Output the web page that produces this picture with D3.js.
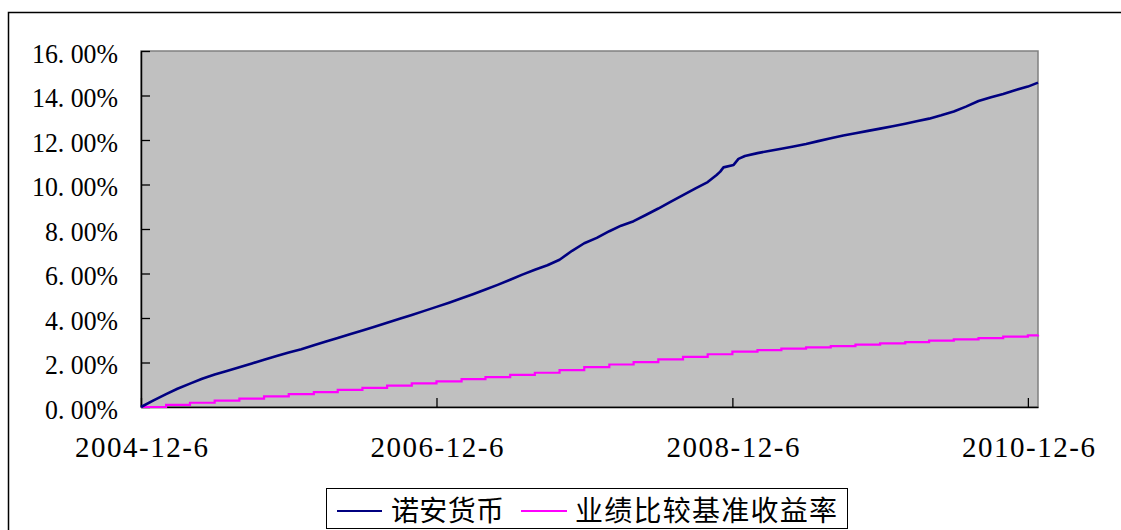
<!DOCTYPE html>
<html>
<head>
<meta charset="utf-8">
<script src="https://cdn.jsdelivr.net/npm/d3@7/dist/d3.min.js"></script>
<style>
  html, body { margin: 0; padding: 0; background: #fff; }
  svg { display: block; }
</style>
</head>
<body>
<svg id="chart" width="1121" height="530"></svg>
<script>
// ---- data ----
const seriesNames = ["诺安货币", "业绩比较基准收益率"];
const xTickLabels = ["2004-12-6", "2006-12-6", "2008-12-6", "2010-12-6"];
const yTicks = [0, 0.02, 0.04, 0.06, 0.08, 0.10, 0.12, 0.14, 0.16];

const fundDates = [
  "2004-12-06","2005-01-06","2005-02-06","2005-03-06","2005-04-06","2005-05-06","2005-06-06",
  "2005-07-06","2005-08-06","2005-09-06","2005-10-06","2005-11-06","2005-12-06",
  "2006-01-06","2006-02-06","2006-03-06","2006-04-06","2006-05-06","2006-06-06",
  "2006-07-06","2006-08-06","2006-09-06","2006-10-06","2006-11-06","2006-12-06",
  "2007-01-06","2007-02-06","2007-03-06","2007-04-06","2007-05-06","2007-06-06",
  "2007-07-06","2007-08-06","2007-09-06","2007-10-06","2007-11-06","2007-12-06",
  "2008-01-06","2008-02-06","2008-03-06","2008-04-06","2008-05-06","2008-06-06",
  "2008-07-06","2008-08-06","2008-09-06","2008-10-06","2008-10-28","2008-11-06","2008-11-14",
  "2008-12-09","2008-12-21","2009-01-06","2009-02-06","2009-03-06","2009-04-06","2009-05-06","2009-06-06",
  "2009-07-06","2009-08-06","2009-09-06","2009-10-06","2009-11-06","2009-12-06",
  "2010-01-06","2010-02-06","2010-03-06","2010-04-06","2010-05-06","2010-06-06",
  "2010-07-06","2010-08-06","2010-09-06","2010-10-06","2010-11-06","2010-12-06","2010-12-31"
];
const fundValues = [
  0.00,0.30,0.58,0.82,1.05,1.27,1.46,
  1.62,1.79,1.96,2.12,2.29,2.45,
  2.60,2.77,2.93,3.10,3.27,3.44,
  3.61,3.79,3.97,4.14,4.32,4.50,
  4.69,4.89,5.07,5.28,5.49,5.72,
  5.95,6.17,6.37,6.62,7.02,7.36,
  7.60,7.90,8.15,8.35,8.63,8.92,
  9.22,9.52,9.83,10.11,10.43,10.58,10.77,
  10.88,11.15,11.28,11.41,11.51,11.61,11.71,11.82,
  11.95,12.08,12.20,12.30,12.41,12.51,
  12.62,12.73,12.84,12.96,13.11,13.28,
  13.50,13.75,13.92,14.07,14.25,14.40,14.58
];

const benchDates = [
  "2004-12-06","2005-02-06","2005-04-06","2005-06-06","2005-08-06","2005-10-06","2005-12-06",
  "2006-02-06","2006-04-06","2006-06-06","2006-08-06","2006-10-06","2006-12-06",
  "2007-02-06","2007-04-06","2007-06-06","2007-08-06","2007-10-06","2007-12-06",
  "2008-02-06","2008-04-06","2008-06-06","2008-08-06","2008-10-06","2008-12-06",
  "2009-02-06","2009-04-06","2009-06-06","2009-08-06","2009-10-06","2009-12-06",
  "2010-02-06","2010-04-06","2010-06-06","2010-08-06","2010-10-06","2010-12-06","2010-12-31"
];
const benchValues = [
  0.00,0.10,0.19,0.29,0.38,0.48,0.58,
  0.67,0.77,0.86,0.96,1.06,1.15,
  1.25,1.34,1.44,1.54,1.66,1.79,
  1.91,2.02,2.14,2.25,2.37,2.49,
  2.56,2.62,2.68,2.74,2.80,2.86,
  2.92,2.98,3.04,3.10,3.16,3.22,3.25
];

const colors = ["#000080", "#FF00FF"];

// ---- drawing ----
const parse = d3.timeParse("%Y-%m-%d");
const svg = d3.select("#chart");

const plotL = 141, plotR = 1038, plotT = 51, plotB = 407;
const x = d3.scaleTime()
  .domain([parse("2004-12-06"), parse("2010-12-31")])
  .range([plotL, plotR]);
const y = d3.scaleLinear().domain([0, 0.16]).range([plotB, plotT]);

// outer frame
svg.append("rect")
  .attr("x", 8.5).attr("y", 12.5).attr("width", 1140).attr("height", 540)
  .attr("fill", "none").attr("stroke", "#000").attr("stroke-width", 1.5);

// plot area
svg.append("rect")
  .attr("x", plotL).attr("y", plotT).attr("width", plotR - plotL).attr("height", plotB - plotT)
  .attr("fill", "#C0C0C0").attr("stroke", "#808080").attr("stroke-width", 1.5);

const labelFont = "'Liberation Serif', 'DejaVu Serif', serif";
const fmt = d3.format(".2%");

// y axis
const yAxis = d3.axisLeft(y).tickValues(yTicks).tickSizeInner(-9).tickSizeOuter(0)
  .tickPadding(23).tickFormat(fmt);
const gy = svg.append("g").attr("transform", `translate(${plotL},0)`).call(yAxis);
gy.select(".domain").attr("stroke", "#000").attr("stroke-width", 1.5);
gy.selectAll(".tick line").attr("stroke", "#000").attr("stroke-width", 1.3);
gy.selectAll(".tick text").each(function(d) {
  const s = fmt(d);
  const p = s.indexOf(".") + 1;
  const t = d3.select(this).text(null)
    .attr("font-family", labelFont).attr("font-size", 28).attr("fill", "#000")
    .attr("dy", null).attr("y", 11)
    .attr("textLength", d >= 0.1 ? 86 : 73).attr("lengthAdjust", "spacingAndGlyphs");
  t.append("tspan").text(s.slice(0, p));
  t.append("tspan").attr("dx", 7).text(s.slice(p));
});

// x axis
const xTickDates = xTickLabels.map(s => { const [yy, mm, dd] = s.split("-").map(Number); return new Date(yy, mm - 1, dd); });
const xAxis = d3.axisBottom(x).tickValues(xTickDates).tickSizeInner(-9).tickSizeOuter(0)
  .tickFormat((d, i) => xTickLabels[i]);
const gx = svg.append("g").attr("transform", `translate(0,${plotB})`).call(xAxis);
gx.select(".domain").attr("stroke", "#000").attr("stroke-width", 1.5);
gx.selectAll(".tick line").attr("stroke", "#000").attr("stroke-width", 1.3);
gx.selectAll(".tick text")
  .attr("font-family", labelFont).attr("font-size", 29).attr("fill", "#000")
  .attr("dy", null).attr("y", 50)
  .attr("textLength", 133).attr("lengthAdjust", "spacing");

// lines
const fundData = fundDates.map((d, i) => ({ date: parse(d), v: fundValues[i] / 100 }));
const benchData = benchDates.map((d, i) => ({ date: parse(d), v: benchValues[i] / 100 }));

svg.append("path").datum(benchData)
  .attr("fill", "none").attr("stroke", colors[1]).attr("stroke-width", 2.2)
  .attr("d", d3.line().x(d => x(d.date)).y(d => y(d.v)).curve(d3.curveStepAfter));

svg.append("path").datum(fundData)
  .attr("fill", "none").attr("stroke", colors[0]).attr("stroke-width", 2.6)
  .attr("stroke-linejoin", "round")
  .attr("d", d3.line().x(d => x(d.date)).y(d => y(d.v)));

// legend
const lg = svg.append("g");
lg.append("rect").attr("x", 326.5).attr("y", 488.5).attr("width", 521).attr("height", 40)
  .attr("fill", "#fff").attr("stroke", "#000").attr("stroke-width", 1);
const legendItems = [
  { name: seriesNames[0], color: colors[0], x1: 337, x2: 382, tx: 391, tl: 113 },
  { name: seriesNames[1], color: colors[1], x1: 521, x2: 567, tx: 575, tl: 262 }
];
legendItems.forEach(it => {
  lg.append("line").attr("x1", it.x1).attr("x2", it.x2).attr("y1", 511).attr("y2", 511)
    .attr("stroke", it.color).attr("stroke-width", 2.2);
  lg.append("text").attr("x", it.tx).attr("y", 521)
    .attr("font-family", "'Noto Sans CJK SC', sans-serif").attr("font-size", 28)
    .attr("fill", "#000")
    .attr("textLength", it.tl).attr("lengthAdjust", "spacing")
    .text(it.name);
});
</script>
</body>
</html>
